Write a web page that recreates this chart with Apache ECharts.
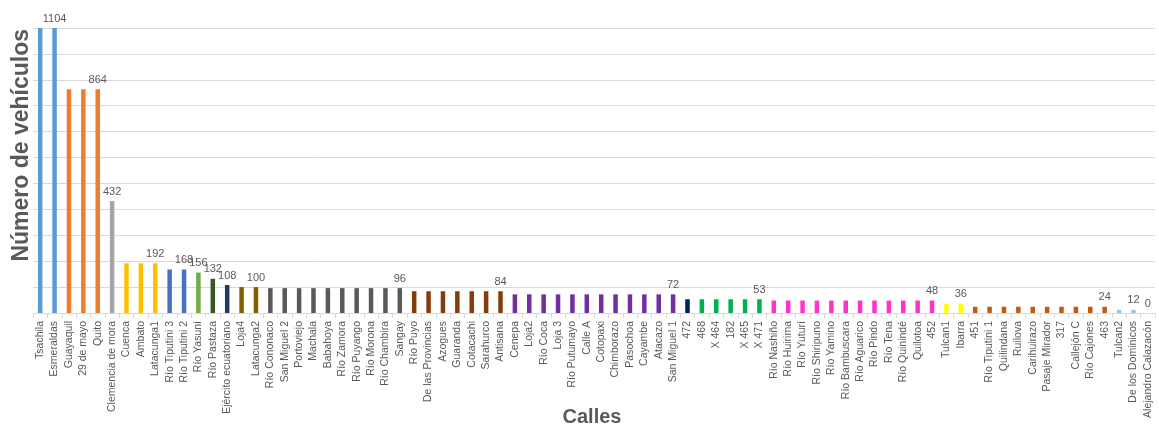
<!DOCTYPE html>
<html>
<head>
<meta charset="utf-8">
<script src="https://cdn.jsdelivr.net/npm/echarts@6/dist/echarts.min.js"></script>
<style>
  html, body { margin: 0; padding: 0; background: #ffffff; }
  #chart { width: 1159px; height: 428px; }
</style>
</head>
<body>
<div id="chart"></div>
<script>
// Streets and the number of vehicles counted on each one
const streets = [
  'Tsachila', 'Esmeraldas', 'Guayaquil', '29 de mayo', 'Quito', 'Clemencia de mora',
  'Cuenca', 'Ambato', 'Latacunga1', 'Río Tiputini 3', 'Río Tiputini 2', 'Río Yasuní',
  'Río Pastaza', 'Ejército ecuatoriano', 'Loja4', 'Latacunga2',
  'Río Cononaco', 'San Miguel 2', 'Portoviejo', 'Machala', 'Babahoya', 'Río Zamora',
  'Río Puyango', 'Río Morona', 'Río Chambira', 'Sangay',
  'Río Puyo', 'De las Provincias', 'Azogues', 'Guaranda', 'Cotacachi', 'Sarahurco', 'Antisana',
  'Cenepa', 'Loja2', 'Río Coca', 'Loja 3', 'Río Putumayo', 'Calle A', 'Cotopaxi',
  'Chimborazo', 'Pasochoa', 'Cayambe', 'Atacazo', 'San Miguel 1',
  '472',
  '468', 'X 464', '182', 'X 465', 'X 471',
  'Río Nashiño', 'Río Huirima', 'Río Yuturí', 'Río Shiripuno', 'Río Yamino', 'Río Bambuscara',
  'Río Aguarico', 'Río Pindo', 'Río Tena', 'Río Quinindé', 'Quilotoa', '452',
  'Tulcan1', 'Ibarra',
  '451', 'Río Tiputini 1', 'Quilindana', 'Ruilova', 'Carihuirazo', 'Pasaje Mirador', '317',
  'Callejón C', 'Río Cajones', '463',
  'Tulcan2', 'De los Dominicos',
  'Alejandro Calazacón'
];

const vehicles = [
  1104, 1104, 864, 864, 864, 432,
  192, 192, 192, 168, 168, 156,
  132, 108, 100, 100,
  96, 96, 96, 96, 96, 96, 96, 96, 96, 96,
  84, 84, 84, 84, 84, 84, 84,
  72, 72, 72, 72, 72, 72, 72, 72, 72, 72, 72, 72,
  53,
  53, 53, 53, 53, 53,
  48, 48, 48, 48, 48, 48, 48, 48, 48, 48, 48, 48,
  36, 36,
  24, 24, 24, 24, 24, 24, 24, 24, 24, 24,
  12, 12,
  0
];

// Number of consecutive streets that share one bar colour
const groupSizes = [2, 3, 1, 3, 2, 1, 1, 1, 2, 10, 7, 12, 1, 5, 12, 2, 10, 2, 1];

// Streets whose count is printed above the bar
const labelledStreets = [
  'Esmeraldas', 'Quito', 'Clemencia de mora', 'Latacunga1', 'Río Tiputini 2', 'Río Yasuní',
  'Río Pastaza', 'Ejército ecuatoriano', 'Latacunga2', 'Sangay', 'Antisana', 'San Miguel 1',
  'X 471', '452', 'Ibarra', '463', 'De los Dominicos', 'Alejandro Calazacón'
];

const xTitle = 'Calles';
const yTitle = 'Número de vehículos';

// One colour per group, in order
const groupColors = [
  '#5b9bd5', '#ed7d31', '#a5a5a5', '#ffc000', '#4472c4', '#70ad47', '#375623', '#203864',
  '#7f6000', '#595959', '#843c0c', '#7030a0', '#002060', '#00b050', '#ff33cc', '#ffff00',
  '#c55a11', '#9dc3e6', '#9dc3e6'
];

const barColors = [];
groupSizes.forEach((n, g) => { for (let i = 0; i < n; i++) barColors.push(groupColors[g]); });

const seriesData = vehicles.map((v, i) => ({
  value: v,
  itemStyle: { color: barColors[i] },
  label: { show: labelledStreets.includes(streets[i]) }
}));

const textGray = '#595959';
const gridGray = '#d9d9d9';
const fontStack = '"Liberation Sans", Arial, sans-serif';

const chart = echarts.init(document.getElementById('chart'), null, { renderer: 'canvas' });
chart.setOption({
  animation: false,
  backgroundColor: '#ffffff',
  textStyle: { fontFamily: fontStack },
  grid: { left: 33, right: 4, top: 28, bottom: 115, containLabel: false, outerBoundsMode: 'none' },
  xAxis: {
    type: 'category',
    data: streets,
    boundaryGap: true,
    axisLine: { lineStyle: { color: gridGray, width: 1 } },
    axisTick: { show: true, alignWithLabel: false, length: 5, lineStyle: { color: gridGray } },
    axisLabel: {
      interval: 0,
      rotate: 90,
      color: textGray,
      fontSize: 10.5,
      margin: 8,
      fontFamily: fontStack
    }
  },
  yAxis: {
    type: 'value',
    min: 0,
    max: 1100,
    interval: 100,
    axisLine: { show: false },
    axisTick: { show: false },
    axisLabel: { show: false },
    splitLine: { lineStyle: { color: gridGray, width: 1 } }
  },
  graphic: [{
    type: 'text',
    left: 10,
    top: 29,
    rotation: Math.PI / 2,
    style: {
      text: yTitle,
      fill: textGray,
      font: 'bold 23px ' + fontStack
    }
  }, {
    type: 'text',
    x: 592,
    y: 417,
    style: {
      text: xTitle,
      fill: textGray,
      font: 'bold 20px ' + fontStack,
      align: 'center',
      verticalAlign: 'middle'
    }
  }],
  series: [{
    type: 'bar',
    data: seriesData,
    barWidth: 4.5,
    clip: true,
    label: {
      position: 'top',
      distance: 4,
      color: textGray,
      fontSize: 11,
      fontFamily: fontStack
    }
  }]
});
</script>
</body>
</html>
